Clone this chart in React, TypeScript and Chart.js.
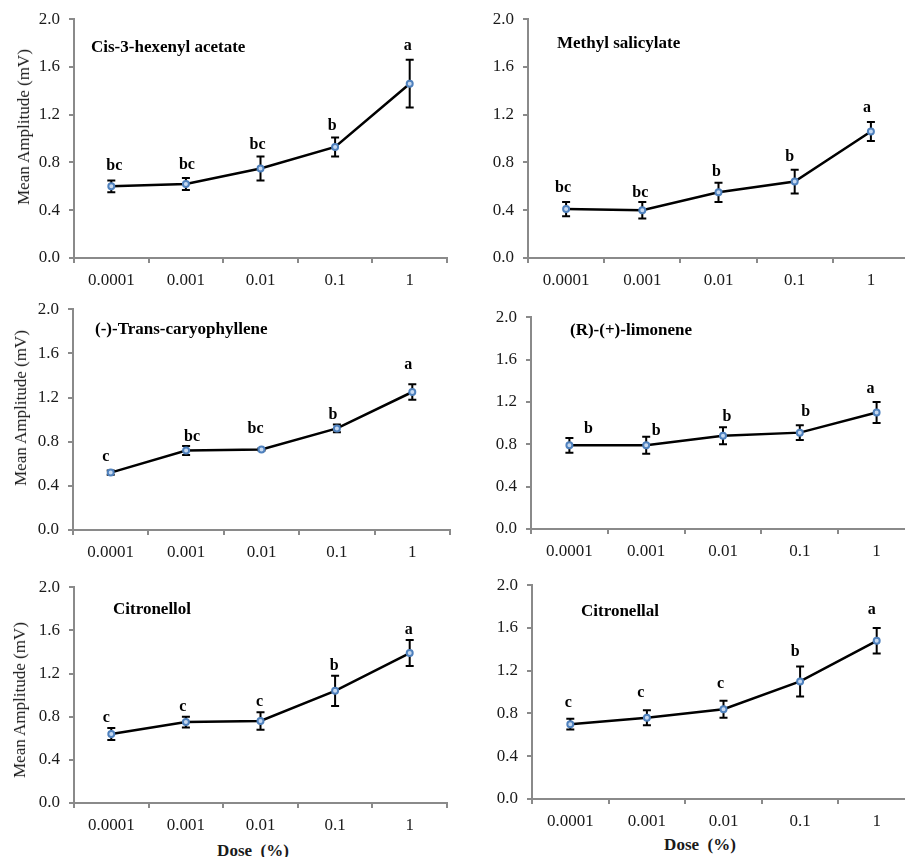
import React, { useEffect, useRef } from "react";
import { Chart, registerables } from "chart.js";

Chart.register(...registerables);

// ---- data ----
const doses = ["0.0001", "0.001", "0.01", "0.1", "1"];

const cisMean = [0.60, 0.62, 0.75, 0.93, 1.46];
const cisErr = [0.05, 0.05, 0.10, 0.08, 0.20];
const cisLetters = ["bc", "bc", "bc", "b", "a"];

const mesMean = [0.41, 0.40, 0.55, 0.64, 1.06];
const mesErr = [0.06, 0.07, 0.08, 0.10, 0.08];
const mesLetters = ["bc", "bc", "b", "b", "a"];

const carMean = [0.52, 0.72, 0.73, 0.92, 1.25];
const carErr = [0.02, 0.04, 0.01, 0.035, 0.07];
const carLetters = ["c", "bc", "bc", "b", "a"];

const limMean = [0.79, 0.79, 0.88, 0.91, 1.10];
const limErr = [0.07, 0.08, 0.08, 0.07, 0.10];
const limLetters = ["b", "b", "b", "b", "a"];

const colMean = [0.64, 0.75, 0.76, 1.04, 1.39];
const colErr = [0.055, 0.05, 0.08, 0.14, 0.12];
const colLetters = ["c", "c", "c", "b", "a"];

const calMean = [0.70, 0.76, 0.84, 1.10, 1.48];
const calErr = [0.05, 0.07, 0.08, 0.14, 0.12];
const calLetters = ["c", "c", "c", "b", "a"];

const yMin = 0;
const yMax = 2.0;
const yStep = 0.4;

const yTitleText = "Mean Amplitude (mV)";
const xTitleText = "Dose\u00a0\u00a0(%)";

// ---- layout / style ----
const SERIF = '"Liberation Serif", "Times New Roman", Times, serif';
const AXIS = "#8a8a8a";
const TEXT = "#1a1a1a";

type PanelCfg = {
  title: string;
  mean: number[];
  err: number[];
  letters: string[];
  area: { L: number; R: number; T: number; B: number };
  titlePos: { x: number; y: number };
  yTitle: { x: number; y: number } | null;
  xTitle: { x: number; y: number } | null;
  dx: number[];
  dy: number[];
};

const panels: PanelCfg[] = [
  {
    title: "Cis-3-hexenyl acetate", mean: cisMean, err: cisErr, letters: cisLetters,
    area: { L: 74, R: 447, T: 19, B: 258 }, titlePos: { x: 91, y: 47 },
    yTitle: { x: 24, y: 127 }, xTitle: null,
    dx: [3, 1, -3, -3, -2], dy: [10, 9, 8, 7, 10],
  },
  {
    title: "Methyl salicylate", mean: mesMean, err: mesErr, letters: mesLetters,
    area: { L: 528, R: 909, T: 19, B: 258 }, titlePos: { x: 557, y: 43 },
    yTitle: null, xTitle: null,
    dx: [-3, -2, -2, -5, -4], dy: [10, 5, 7, 9, 10],
  },
  {
    title: "(-)-Trans-caryophyllene", mean: carMean, err: carErr, letters: carLetters,
    area: { L: 73, R: 450, T: 309, B: 530 }, titlePos: { x: 95, y: 329 },
    yTitle: { x: 21, y: 408 }, xTitle: null,
    dx: [-5, 6, -6, -4, -4], dy: [9, 5, 15, 6, 15],
  },
  {
    title: "(R)-(+)-limonene", mean: limMean, err: limErr, letters: limLetters,
    area: { L: 531, R: 915, T: 317, B: 529 }, titlePos: { x: 570, y: 330 },
    yTitle: null, xTitle: null,
    dx: [19, 10, 4, 6, -6], dy: [5, 2, 6, 9, 9],
  },
  {
    title: "Citronellol", mean: colMean, err: colErr, letters: colLetters,
    area: { L: 74, R: 447, T: 587, B: 803 }, titlePos: { x: 113, y: 609 },
    yTitle: { x: 20, y: 700 }, xTitle: { x: 253, y: 851 },
    dx: [-5, -3, -1, -1, -1], dy: [6, 6, 6, 6, 6],
  },
  {
    title: "Citronellal", mean: calMean, err: calErr, letters: calLetters,
    area: { L: 532, R: 915, T: 585, B: 799 }, titlePos: { x: 581, y: 611 },
    yTitle: null, xTitle: { x: 700, y: 845 },
    dx: [-2, -6, -3, -5, -5], dy: [12, 13, 13, 10, 14],
  },
];

function Panel({ p }: { p: PanelCfg }) {
  const ref = useRef<HTMLCanvasElement | null>(null);
  const x0 = Math.max(0, p.area.L - 74);
  const y0 = p.area.T - 19;
  const x1 = p.area.R + 6;
  const y1 = p.area.B + 32;
  const W = x1 - x0;
  const H = y1 - y0;

  useEffect(() => {
    if (!ref.current) return;
    const errPlugin = {
      id: "errLetters",
      beforeDatasetsDraw(chart: any) {
        const ctx = chart.ctx;
        const xs = chart.scales.x;
        const ys = chart.scales.y;
        ctx.save();
        ctx.strokeStyle = "#000";
        ctx.lineWidth = 2;
        p.mean.forEach((m, i) => {
          const x = xs.getPixelForValue(i);
          const yt = ys.getPixelForValue(m + p.err[i]);
          const yb = ys.getPixelForValue(m - p.err[i]);
          ctx.beginPath();
          ctx.moveTo(x, yt);
          ctx.lineTo(x, yb);
          ctx.moveTo(x - 4, yt);
          ctx.lineTo(x + 4, yt);
          ctx.moveTo(x - 4, yb);
          ctx.lineTo(x + 4, yb);
          ctx.stroke();
        });
        ctx.restore();
      },
      afterDatasetsDraw(chart: any) {
        const ctx = chart.ctx;
        const xs = chart.scales.x;
        const ys = chart.scales.y;
        ctx.save();
        ctx.fillStyle = "#000";
        ctx.font = `bold 16px ${SERIF}`;
        ctx.textAlign = "center";
        ctx.textBaseline = "alphabetic";
        p.letters.forEach((l, i) => {
          const x = xs.getPixelForValue(i) + p.dx[i];
          const yt = ys.getPixelForValue(p.mean[i] + p.err[i]);
          ctx.fillText(l, x, yt - p.dy[i]);
        });
        ctx.restore();
      },
    };

    const chart = new Chart(ref.current, {
      type: "line",
      data: {
        labels: doses,
        datasets: [
          {
            data: p.mean,
            borderColor: "#000",
            borderWidth: 2.5,
            tension: 0,
            fill: false,
            pointRadius: 3,
            pointBorderWidth: 2,
            pointBorderColor: "#4f81bd",
            pointBackgroundColor: "#c6d9f1",
          },
        ],
      },
      options: {
        responsive: false,
        animation: false,
        events: [],
        layout: { padding: { left: 0, top: p.area.T - y0, right: x1 - p.area.R, bottom: 0 } },
        plugins: { legend: { display: false }, tooltip: { enabled: false } },
        scales: {
          x: {
            type: "category",
            offset: true,
            grid: { offset: true, drawOnChartArea: false, drawTicks: true, tickLength: 5, color: AXIS, lineWidth: 2 },
            border: { color: AXIS, width: 2 },
            ticks: { font: { family: SERIF, size: 17 }, color: TEXT, padding: 7, maxRotation: 0, autoSkip: false },
            afterFit: (s: any) => { s.height = y1 - p.area.B; },
          },
          y: {
            min: yMin,
            max: yMax,
            grid: { drawOnChartArea: false, drawTicks: true, tickLength: 5, color: AXIS, lineWidth: 2 },
            border: { color: AXIS, width: 2 },
            ticks: {
              stepSize: yStep,
              font: { family: SERIF, size: 17 },
              color: TEXT,
              padding: 9,
              callback: (v: any) => Number(v).toFixed(1),
            },
            afterFit: (s: any) => { s.width = p.area.L - x0; },
          },
        },
      } as any,
      plugins: [errPlugin],
    });
    return () => chart.destroy();
  }, []);

  return (
    <>
      <canvas ref={ref} width={W} height={H} style={{ position: "absolute", left: x0, top: y0, width: W, height: H }} />
      <div
        style={{
          position: "absolute", left: p.titlePos.x, top: p.titlePos.y - 10, lineHeight: "20px",
          font: `bold 17px ${SERIF}`, color: "#000", whiteSpace: "nowrap",
        }}
      >
        {p.title}
      </div>
      {p.yTitle && (
        <div
          style={{
            position: "absolute", left: p.yTitle.x, top: p.yTitle.y, lineHeight: "20px",
            transform: "translate(-50%, -50%) rotate(-90deg)", font: `17px ${SERIF}`, color: TEXT, whiteSpace: "nowrap",
          }}
        >
          {yTitleText}
        </div>
      )}
      {p.xTitle && (
        <div
          style={{
            position: "absolute", left: p.xTitle.x, top: p.xTitle.y, lineHeight: "20px",
            transform: "translate(-50%, -50%)", font: `bold 17px ${SERIF}`, color: TEXT, whiteSpace: "nowrap",
          }}
        >
          {xTitleText}
        </div>
      )}
    </>
  );
}

export default function App() {
  return (
    <div style={{ position: "absolute", left: 0, top: 0, width: 905, height: 857, overflow: "hidden", background: "#fff" }}>
      {panels.map((p, i) => (
        <Panel key={i} p={p} />
      ))}
    </div>
  );
}
